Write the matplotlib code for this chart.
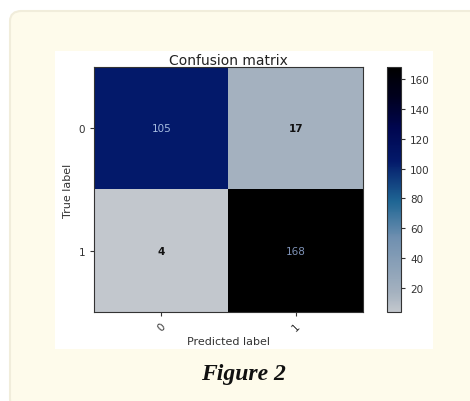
import matplotlib
matplotlib.use("Agg")
import matplotlib.pyplot as plt
import numpy as np
from matplotlib.colors import LinearSegmentedColormap
from matplotlib.patches import FancyBboxPatch, Rectangle

classes = ["0", "1"]
cm = np.array([[105, 17],
               [4, 168]])
cbar_ticks = [20, 40, 60, 80, 100, 120, 140, 160]

# gray -> steel blue -> navy -> black
cmap = LinearSegmentedColormap.from_list(
    "grayblue",
    [(0.00, "#c2c7cd"), (0.08, "#a4b1bf"), (0.30, "#7090b0"),
     (0.45, "#1f6694"), (0.616, "#03196a"), (0.75, "#000650"),
     (0.88, "#00001e"), (1.00, "#000000")],
)

fig = plt.figure(figsize=(4.70, 4.02), dpi=100)
fig.patch.set_facecolor("white")

# page card behind the figure
card = FancyBboxPatch((10 / 470, (402 - 410) / 402), 480 / 470, 398 / 402,
                      boxstyle="round,pad=0,rounding_size=0.025",
                      transform=fig.transFigure, facecolor="#fefbeb",
                      edgecolor="#f1eddb", linewidth=1.5, zorder=-2)
fig.patches.append(card)
fig.patches.append(Rectangle((55 / 470, 52 / 402), 378 / 470, 298 / 402,
                             transform=fig.transFigure, facecolor="white",
                             edgecolor="none", zorder=-1))

ax = fig.add_axes([94 / 470, 89 / 402, 269 / 470, 245 / 402])
cax = fig.add_axes([387 / 470, 89 / 402, 14 / 470, 245 / 402])

im = ax.imshow(cm, interpolation="nearest", cmap=cmap, aspect="auto")
ax.set_title("Confusion matrix", fontsize=10, color="#222222", pad=2)
cb = fig.colorbar(im, cax=cax, ticks=cbar_ticks)
cb.ax.tick_params(labelsize=7.5, colors="#333333", length=3)
cb.outline.set_edgecolor("#333333")

ax.set_xticks(np.arange(len(classes)))
ax.set_xticklabels(classes, rotation=45)
ax.set_yticks(np.arange(len(classes)))
ax.set_yticklabels(classes)
ax.tick_params(labelsize=7.5, colors="#333333", length=3)
for s in ax.spines.values():
    s.set_edgecolor("#333333")

text_colors = {105: "#a6bce0", 168: "#7e92b6"}
for i in range(cm.shape[0]):
    for j in range(cm.shape[1]):
        v = cm[i, j]
        ax.text(j, i, str(v), ha="center", va="center", fontsize=7.5,
                color=text_colors.get(v, "#111111"),
                fontweight="normal" if v in text_colors else "bold")

ax.set_ylabel("True label", fontsize=8, color="#333333")
ax.set_xlabel("Predicted label", fontsize=8, color="#333333", labelpad=2)

fig.text(243 / 470, 1 - 375 / 402, "Figure 2", ha="center", va="center",
         fontsize=17, family="Liberation Serif", fontweight="bold",
         fontstyle="italic", color="#111111")

fig.savefig("out.png", dpi=100, facecolor=fig.get_facecolor())
